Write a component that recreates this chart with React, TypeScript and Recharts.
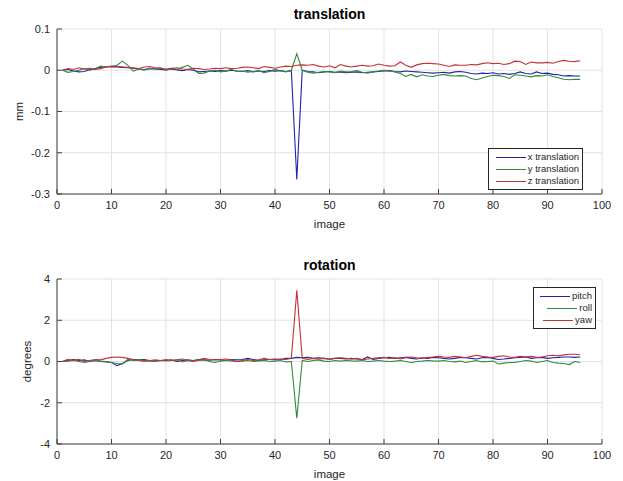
import { ReactElement } from 'react'
import { CartesianGrid, Label, Line, LineChart, XAxis, YAxis } from 'recharts'

// image index 1..96
const frames = Array.from({ length: 96 }, (_, i) => i + 1)

const xTranslation = [
  0, 0.002, -0.002, -0.004, -0.003, 0.001, 0.004, 0.007, 0.009, 0.008,
  0.008, 0.007, 0.006, 0.005, 0.003, 0.002, 0.004, 0.003, 0.002, 0.001,
  0.003, 0.001, -0.001, 0.002, 0, -0.004, -0.003, -0.002, -0.003, -0.001,
  -0.002, 0, -0.002, -0.003, -0.001, -0.004, -0.002, -0.003, -0.001, -0.002,
  -0.001, -0.003, -0.001, -0.265, 0, -0.003, -0.004, -0.006, -0.004, -0.003,
  -0.005, -0.004, -0.006, -0.005, -0.004, -0.006, -0.005, -0.004, -0.003, -0.002,
  -0.001, -0.003, -0.004, -0.002, -0.003, -0.004, -0.005, -0.006, -0.007, -0.006,
  -0.005, -0.007, -0.004, -0.003, -0.005, -0.008, -0.009, -0.007, -0.008, -0.006,
  -0.009, -0.008, -0.01, -0.008, -0.004, -0.008, -0.009, -0.004, -0.008, -0.007,
  -0.01, -0.011, -0.014, -0.013, -0.014, -0.014,
]
const yTranslation = [
  0, -0.005, -0.003, 0, 0.004, 0, 0.003, 0.01, 0.008, 0.009,
  0.012, 0.022, 0.012, -0.002, 0.003, 0, 0.005, 0.004, 0.006, 0,
  0.005, 0.002, 0.007, 0.012, 0.003, -0.008, -0.007, -0.002, 0, -0.004,
  -0.002, 0.002, -0.003, -0.002, -0.005, -0.003, -0.001, -0.006, -0.003, 0.002,
  -0.001, -0.004, 0, 0.04, 0, -0.005, -0.007, -0.005, -0.003, -0.004,
  -0.006, -0.002, -0.004, -0.003, -0.001, -0.005, -0.007, -0.004, -0.002, 0,
  -0.002, -0.004, -0.008, -0.015, -0.01, -0.016, -0.011, -0.014, -0.015, -0.012,
  -0.01, -0.013, -0.014, -0.013, -0.014, -0.02, -0.023, -0.019, -0.015, -0.012,
  -0.013, -0.015, -0.02, -0.011, -0.012, -0.014, -0.016, -0.013, -0.014, -0.011,
  -0.015, -0.018, -0.022, -0.023, -0.022, -0.022,
]
const zTranslation = [
  0, 0.004, 0.002, 0.006, 0.003, 0.005, 0.002, 0.004, 0.008, 0.01,
  0.009, 0.008, 0.007, 0.006, 0.004, 0.008, 0.009, 0.006, 0.005, 0.003,
  0.004, 0.006, 0.003, 0.002, 0.005, 0.004, 0.002, 0.003, 0.005, 0.004,
  0.006, 0.004, 0.005, 0.007, 0.008, 0.006, 0.004, 0.009, 0.007, 0.005,
  0.008, 0.01, 0.009, 0.012, 0.013, 0.012, 0.014, 0.01, 0.008, 0.011,
  0.006, 0.014, 0.01, 0.008, 0.01, 0.012, 0.01, 0.011, 0.015, 0.012,
  0.01, 0.011, 0.02, 0.012, 0.007, 0.013, 0.016, 0.017, 0.016, 0.015,
  0.012, 0.009, 0.013, 0.012, 0.012, 0.014, 0.013, 0.016, 0.018, 0.016,
  0.017, 0.014, 0.016, 0.022, 0.021, 0.014, 0.02, 0.018, 0.018, 0.019,
  0.017, 0.021, 0.024, 0.022, 0.021, 0.023,
]

const pitch = [
  0, 0.05, 0.1, 0.05, 0.08, 0, 0.05, 0, -0.02, -0.05,
  -0.2, -0.1, 0.05, 0.1, 0.08, 0.1, 0.05, 0.03, 0.05, 0.05,
  0.08, 0, 0.05, 0.08, 0.05, 0.1, 0.08, 0.06, 0.1, 0.08,
  0.05, 0.1, 0.08, 0.1, 0.15, 0.1, 0.05, 0.08, 0.1, 0.12,
  0.1, 0.15, 0.15, 0.2, 0.18, 0.2, 0.15, 0.18, 0.15, 0.12,
  0.15, 0.15, 0.12, 0.15, 0.12, 0.1, 0.22, 0.1, 0.15, 0.18,
  0.2, 0.15, 0.18, 0.2, 0.15, 0.12, 0.18, 0.15, 0.2, 0.18,
  0.15, 0.12, 0.15, 0.2, 0.18, 0.15, 0.12, 0.18, 0.2, 0.15,
  0.1, 0.12, 0.15, 0.18, 0.2, 0.22, 0.15, 0.18, 0.2, 0.15,
  0.18, 0.2, 0.22, 0.22, 0.2, 0.22,
]
const roll = [
  0, 0.02, 0.05, 0, -0.05, 0, 0.05, 0.02, 0, -0.05,
  -0.1, -0.12, 0.1, 0.05, 0.08, 0.05, 0.02, 0, 0.05, 0.03,
  0.05, 0.08, -0.02, 0.05, 0.03, 0.05, 0.08, 0, -0.05, 0.02,
  0.05, 0.03, 0, 0.02, 0.05, 0, 0.03, 0.05, 0, 0.02,
  0.05, -0.02, 0, -2.75, 0.05, 0, 0.05, 0.08, 0.02, 0,
  0.05, 0.02, 0.05, 0.03, 0.02, 0.05, 0, 0.02, 0.05, 0.02,
  0, 0.02, 0.05, 0, -0.05, 0, 0.02, 0.05, 0.03, 0.02,
  0.05, 0, -0.02, 0.02, -0.05, 0, 0.05, -0.02, 0, 0.02,
  -0.12, -0.08, -0.05, -0.05, 0, 0.05, 0.02, -0.05, 0, 0.05,
  -0.05, -0.08, -0.1, -0.15, 0, -0.05,
]
const yaw = [
  0, 0.1, 0.05, 0.1, 0, 0.05, 0.1, 0.08, 0.15, 0.2,
  0.22, 0.2, 0.15, 0.1, 0.05, 0, 0.05, 0.08, 0.05, 0.1,
  0.05, 0.08, 0.12, 0.05, 0, 0.08, 0.15, 0.1, 0.08, 0.1,
  0.12, 0.08, 0, 0.05, 0.1, 0.05, 0.08, 0.15, 0.1, 0.08,
  0.12, 0.1, 0.15, 3.45, 0.15, 0.1, 0.15, 0.12, 0.15, 0.1,
  0.15, 0.18, 0.15, 0.12, 0.15, 0.08, 0.12, 0.15, 0.18, 0.2,
  0.15, 0.18, 0.12, 0.2, 0.22, 0.18, 0.15, 0.2, 0.22, 0.25,
  0.22, 0.2, 0.25, 0.22, 0.18, 0.25, 0.3, 0.25, 0.22, 0.2,
  0.25, 0.28, 0.22, 0.2, 0.25, 0.22, 0.25, 0.2, 0.22, 0.28,
  0.3, 0.28, 0.32, 0.35, 0.35, 0.33,
]

const xTicks = [0, 10, 20, 30, 40, 50, 60, 70, 80, 90, 100]
const translationTicks = [-0.3, -0.2, -0.1, 0, 0.1]
const rotationTicks = [-4, -2, 0, 2, 4]

const BLUE = '#2323a3'
const GREEN = '#2f8a3c'
const RED = '#c23338'

const translationSeries = [
  { key: 'x', name: 'x translation', color: BLUE, values: xTranslation },
  { key: 'y', name: 'y translation', color: GREEN, values: yTranslation },
  { key: 'z', name: 'z translation', color: RED, values: zTranslation },
]
const rotationSeries = [
  { key: 'pitch', name: 'pitch', color: BLUE, values: pitch },
  { key: 'roll', name: 'roll', color: GREEN, values: roll },
  { key: 'yaw', name: 'yaw', color: RED, values: yaw },
]

type Series = { key: string; name: string; color: string; values: number[] }

const FONT = 'Arial, "Liberation Sans", Helvetica, sans-serif'
const tickStyle = { fontSize: 11, fill: '#262626', fontFamily: FONT }

function buildRows(series: Series[]) {
  return frames.map((f, i) => {
    const row: Record<string, number> = { image: f }
    series.forEach((s) => {
      row[s.key] = s.values[i]
    })
    return row
  })
}

function Panel(props: {
  series: Series[]
  ticks: number[]
  yLabel: string
  labelOffset: number
  top: number
}): ReactElement {
  const { series, ticks, yLabel, labelOffset, top } = props
  return (
    <div style={{ position: 'absolute', left: 0, top }}>
      <LineChart
        width={623}
        height={250}
        data={buildRows(series)}
        margin={{ top: 39, right: 21, bottom: 16, left: 17 }}
      >
        <CartesianGrid stroke="#e2e2e2" horizontalValues={ticks} verticalValues={xTicks} />
        <XAxis
          dataKey="image"
          type="number"
          domain={[0, 100]}
          ticks={xTicks}
          tick={tickStyle}
          tickSize={-5}
          tickMargin={12}
          height={30}
          stroke="#404040"
          allowDataOverflow
        >
          <Label value="image" position="insideBottom" offset={-4} style={{ ...tickStyle, fontSize: 11.5 }} />
        </XAxis>
        <YAxis
          type="number"
          domain={[ticks[0], ticks[ticks.length - 1]]}
          ticks={ticks}
          tick={tickStyle}
          tickSize={-5}
          tickMargin={12}
          width={40}
          stroke="#404040"
          allowDataOverflow
        >
          <Label value={yLabel} angle={-90} position="insideLeft" offset={labelOffset} style={{ ...tickStyle, fontSize: 11.5, textAnchor: 'middle' }} />
        </YAxis>
        {series.map((s) => (
          <Line
            key={s.key}
            dataKey={s.key}
            name={s.name}
            type="linear"
            stroke={s.color}
            strokeWidth={1.1}
            dot={false}
            activeDot={false}
            isAnimationActive={false}
          />
        ))}
      </LineChart>
    </div>
  )
}

function LegendBox(props: { series: Series[]; left: number; top: number; width: number }): ReactElement {
  const { series, left, top, width } = props
  return (
    <div
      style={{
        position: 'absolute',
        left,
        top,
        width,
        background: '#fff',
        border: '1px solid #262626',
        padding: '2px 3px',
        fontFamily: FONT,
        fontSize: 9.5,
        color: '#262626',
        boxSizing: 'border-box',
        whiteSpace: 'nowrap',
      }}
    >
      {series.map((s) => (
        <div key={s.key} style={{ display: 'flex', alignItems: 'center', height: 12, lineHeight: '12px', justifyContent: 'flex-end' }}>
          <span style={{ display: 'block', flexShrink: 0, width: 30, height: 0, borderTop: `1px solid ${s.color}`, marginRight: 2 }} />
          <span>{s.name}</span>
        </div>
      ))}
    </div>
  )
}

export default function App(): ReactElement {
  const titleStyle = {
    position: 'absolute' as const,
    left: 57,
    width: 545,
    textAlign: 'center' as const,
    fontFamily: FONT,
    fontWeight: 'bold' as const,
    fontSize: 14,
    color: '#000',
  }
  return (
    <div style={{ position: 'absolute', left: 0, top: 0, width: 623, height: 481, background: '#fff' }}>
      <Panel series={translationSeries} ticks={translationTicks} yLabel="mm" labelOffset={2} top={-10} />
      <Panel series={rotationSeries} ticks={rotationTicks} yLabel="degrees" labelOffset={10} top={240} />
      <div style={{ ...titleStyle, top: 6 }}>translation</div>
      <div style={{ ...titleStyle, top: 257 }}>rotation</div>
      <LegendBox series={translationSeries} left={488} top={148} width={95} />
      <LegendBox series={rotationSeries} left={533} top={287} width={63} />
    </div>
  )
}
